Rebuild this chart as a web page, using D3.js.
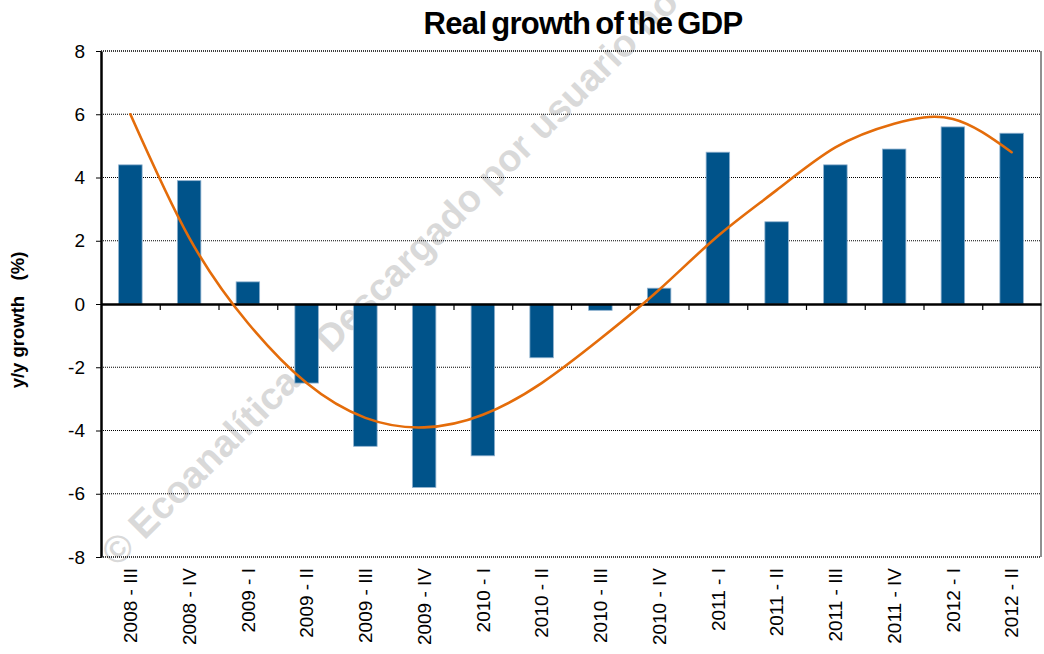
<!DOCTYPE html>
<html>
<head>
<meta charset="utf-8">
<script src="https://cdn.jsdelivr.net/npm/d3@7"></script>
<style>
    body { margin: 0; background: #fff; }
    svg { display: block; font-family: "Liberation Sans", Arial, sans-serif; }
</style>
</head>
<body>
<svg id="chart" width="1044" height="654"></svg>
<script>
"use strict";

var quarters = ["2008 - III", "2008 - IV", "2009 - I", "2009 - II", "2009 - III", "2009 - IV",
                "2010 - I", "2010 - II", "2010 - III", "2010 - IV", "2011 - I", "2011 - II",
                "2011 - III", "2011 - IV", "2012 - I", "2012 - II"];
var growth = [4.4, 3.9, 0.7, -2.5, -4.5, -5.8, -4.8, -1.7, -0.2, 0.5, 4.8, 2.6, 4.4, 4.9, 5.6, 5.4];
// excel trend line, read at each quarter
var trend = [6.0, 2.1, -0.6, -2.5, -3.6, -3.9, -3.5, -2.5, -1.1, 0.45, 2.15, 3.6, 4.95, 5.7, 5.85, 4.8];
var yTicks = [-8, -6, -4, -2, 0, 2, 4, 6, 8];

(function(d, w, u){
    var left = 101, right = 1041, top = 51, bottom = 557;

    var svg = d3.select("#chart");

    var x = d3.scaleBand()
        .domain(quarters)
        .range([left, right])
        .paddingInner(0.6)
        .paddingOuter(0.3);

    var slots = d3.scaleLinear()
        .domain([0, quarters.length])
        .range([left, right]);

    var y = d3.scaleLinear()
        .domain([-8, 8])
        .range([bottom, top]);

    // watermark (runs off the top edge like the original)
    svg.append("text")
        .attr("transform", "translate(117,568) rotate(-45)")
        .attr("font-size", 38)
        .attr("font-weight", "bold")
        .attr("fill", "#d9d9d9")
        .text("© Ecoanalítica – Descargado por usuario no");

    // dotted grid
    svg.append("g")
        .selectAll("line")
        .data(yTicks.filter(function(t){ return t !== 0; }))
        .enter()
        .append("line")
        .attr("x1", left)
        .attr("x2", right)
        .attr("y1", function(t){ return y(t); })
        .attr("y2", function(t){ return y(t); })
        .attr("stroke", "#000")
        .attr("stroke-width", function(t){ return Math.abs(t) === 8 ? 1.6 : 1; })
        .attr("stroke-dasharray", "1,1");

    svg.append("line")
        .attr("x1", right).attr("x2", right)
        .attr("y1", top).attr("y2", bottom)
        .attr("stroke", "#222")
        .attr("stroke-width", 1);

    // bars
    svg.append("g")
        .selectAll("rect")
        .data(growth)
        .enter()
        .append("rect")
        .attr("x", function(v, i){ return x(quarters[i]); })
        .attr("width", x.bandwidth())
        .attr("y", function(v){ return y(Math.max(0, v)); })
        .attr("height", function(v){ return Math.abs(y(v) - y(0)); })
        .attr("fill", "#00538a")
        .attr("stroke", "#8fb1cf")
        .attr("stroke-width", 0.8);

    // zero line with ticks between quarters
    var zeroAxis = svg.append("g")
        .attr("transform", "translate(0," + y(0) + ")")
        .call(d3.axisBottom(slots)
            .tickValues(d3.range(1, quarters.length))
            .tickSize(6)
            .tickSizeOuter(0)
            .tickFormat(""));
    zeroAxis.select(".domain").attr("stroke-width", 2.5);
    zeroAxis.selectAll(".tick line").attr("stroke-width", 1.2);

    // quarter labels
    var xAxis = svg.append("g")
        .attr("transform", "translate(0," + bottom + ")")
        .call(d3.axisBottom(x).tickSize(0).tickPadding(0));
    xAxis.select(".domain").remove();
    xAxis.selectAll("text")
        .attr("transform", "rotate(-90)")
        .attr("x", -11)
        .attr("y", 0)
        .attr("dy", ".35em")
        .attr("text-anchor", "end")
        .attr("font-size", 19)
        .attr("font-family", "Liberation Sans, Arial, sans-serif")
        .attr("fill", "#000");

    // y axis, plain hyphen for negatives like the original
    var yAxis = svg.append("g")
        .attr("transform", "translate(" + left + ",0)")
        .call(d3.axisLeft(y)
            .tickValues(yTicks)
            .tickSize(5)
            .tickSizeOuter(0)
            .tickPadding(11)
            .tickFormat(function(t){ return String(t); }));
    yAxis.select(".domain").attr("stroke-width", 2.5);
    yAxis.selectAll("text")
        .attr("font-size", 19)
        .attr("font-family", "Liberation Sans, Arial, sans-serif")
        .attr("fill", "#000");

    // trend
    var line = d3.line()
        .x(function(v, i){ return x(quarters[i]) + x.bandwidth() / 2; })
        .y(function(v){ return y(v); })
        .curve(d3.curveNatural);

    svg.append("path")
        .datum(trend)
        .attr("d", line)
        .attr("fill", "none")
        .attr("stroke", "#e46c0a")
        .attr("stroke-width", 2.6)
        .attr("stroke-linecap", "round");

    // captions
    svg.append("text")
        .attr("x", 583)
        .attr("y", 34)
        .attr("text-anchor", "middle")
        .attr("font-size", 31)
        .attr("font-weight", "bold")
        .attr("letter-spacing", -0.7)
        .attr("word-spacing", -3)
        .text("Real growth of the GDP");

    svg.append("text")
        .attr("transform", "translate(24,320) rotate(-90)")
        .attr("text-anchor", "middle")
        .attr("font-size", 18.5)
        .attr("font-weight", "bold")
        .attr("xml:space", "preserve")
        .style("white-space", "pre")
        .text("y/y growth   (%)");
})(document, window, undefined);
</script>
</body>
</html>
